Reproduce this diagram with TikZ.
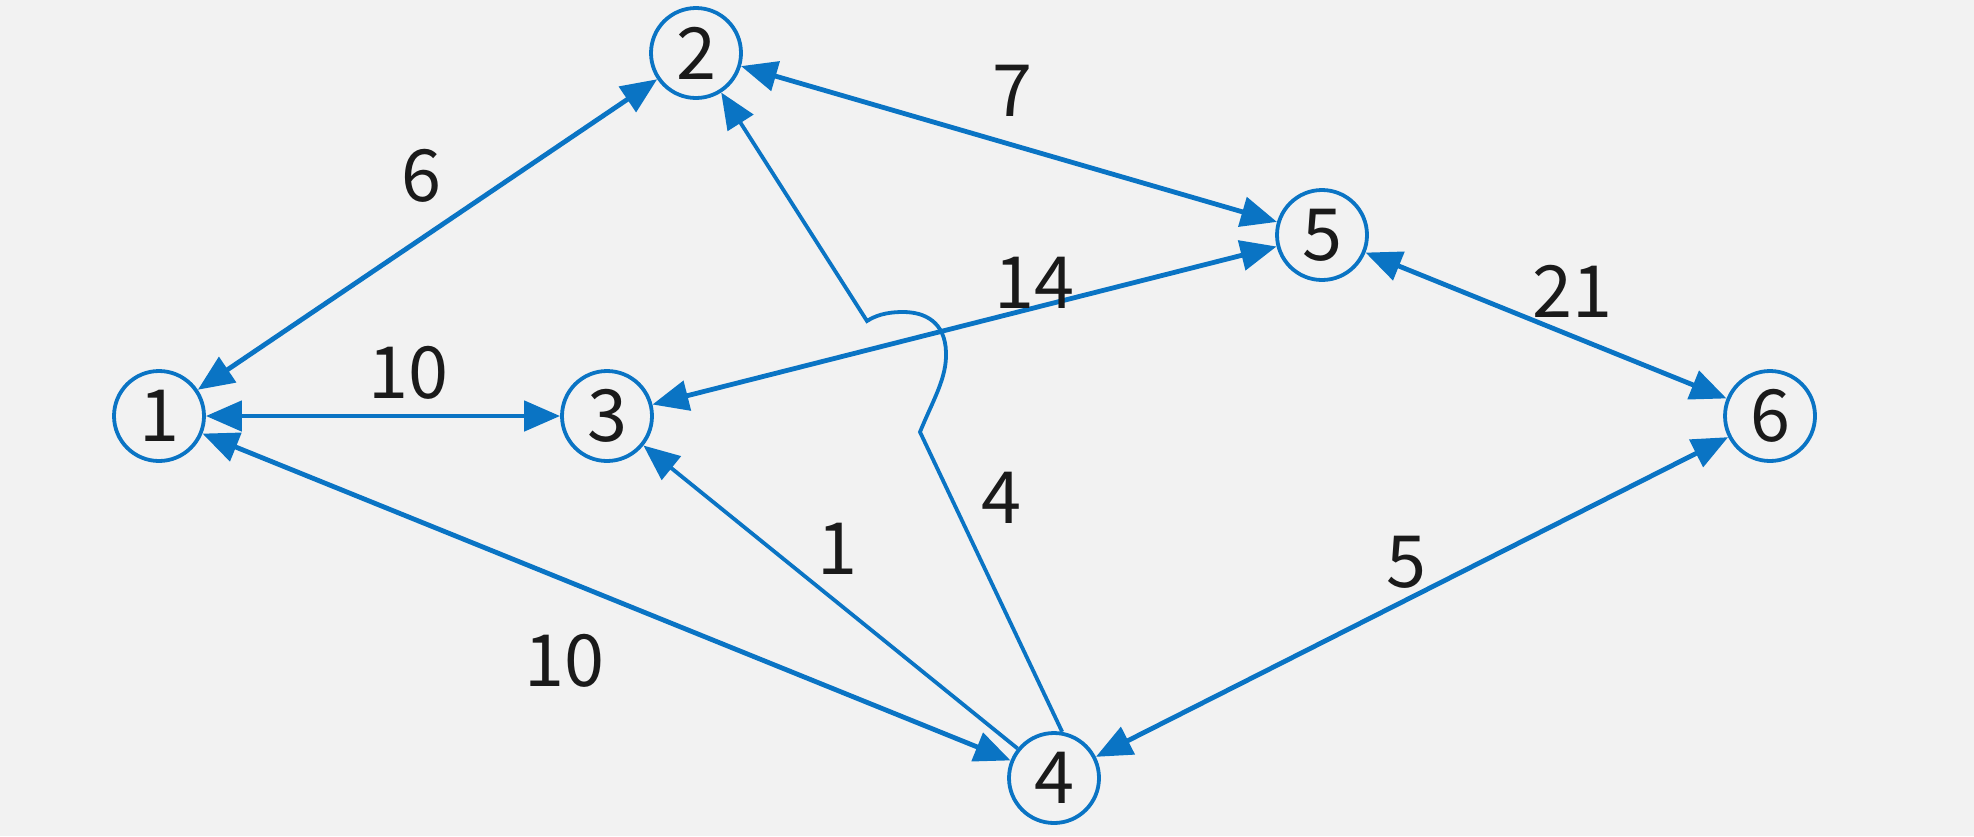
\documentclass[tikz,border=0pt]{standalone}
\usepackage{fontspec}
\newfontfamily\labelfont{Noto Sans CJK SC}
\usetikzlibrary{arrows.meta}
\definecolor{edgeblue}{HTML}{0A74C4}
\definecolor{bgcol}{HTML}{F2F2F2}
\definecolor{txt}{HTML}{1A1A1A}
\begin{document}
\begin{tikzpicture}[x=0.5pt,y=-0.5pt,
  vert/.style={circle,draw=edgeblue,line width=1.9pt,minimum size=45pt,inner sep=0pt,
    font=\labelfont\fontsize{36}{40}\selectfont,text=txt},
  wlabel/.style={font=\labelfont\fontsize{36}{40}\selectfont,text=txt,inner sep=0pt},
  conn/.style={draw=edgeblue,line width=2.4pt},
  thinconn/.style={draw=edgeblue,line width=1.9pt},
  both/.style={conn,{Triangle[length=18pt,width=15pt]}-{Triangle[length=18pt,width=15pt]}},
  fwd/.style={thinconn,-{Triangle[length=18pt,width=15pt]}}]
\fill[bgcol] (0,0) rectangle (1974,836);
\useasboundingbox (0,0) rectangle (1974,836);

\node[vert] (n1) at (159,416) {1};
\node[vert] (n2) at (696,53) {2};
\node[vert] (n3) at (607,416) {3};
\node[vert] (n4) at (1054,778) {4};
\node[vert] (n5) at (1322,235) {5};
\node[vert] (n6) at (1770,416) {6};

\coordinate (bB) at (920,432);
\coordinate (bT) at (867,321);

\draw[both] (n1) -- (n2);
\draw[both] (n1) -- (n3);
\draw[both] (n1) -- (n4);
\draw[both] (n2) -- (n5);
\draw[both] (n3) -- (n5);
\draw[both] (n5) -- (n6);
\draw[both] (n4) -- (n6);
\draw[fwd] (n4) -- (n3);
\draw[fwd] (n4.80) -- (bB) .. controls (933,400) and (947,378) .. (946,352)
  .. controls (945,322) and (925,312) .. (903,312)
  .. controls (885,312) and (875,316) .. (bT) -- (n2);

\node[wlabel] (l12) at (421,176) {6};
\node[wlabel] (l13) at (408,373) {10};
\node[wlabel] (l14) at (564,661) {10};
\node[wlabel] (l43) at (837,549) {1};
\node[wlabel] (l25) at (1012,91) {7};
\node[wlabel] (l35) at (1034,283) {14};
\node[wlabel] (l56) at (1572,291) {21};
\node[wlabel] (l42) at (1001,498) {4};
\node[wlabel] (l46) at (1406,562) {5};
\end{tikzpicture}
\end{document}
